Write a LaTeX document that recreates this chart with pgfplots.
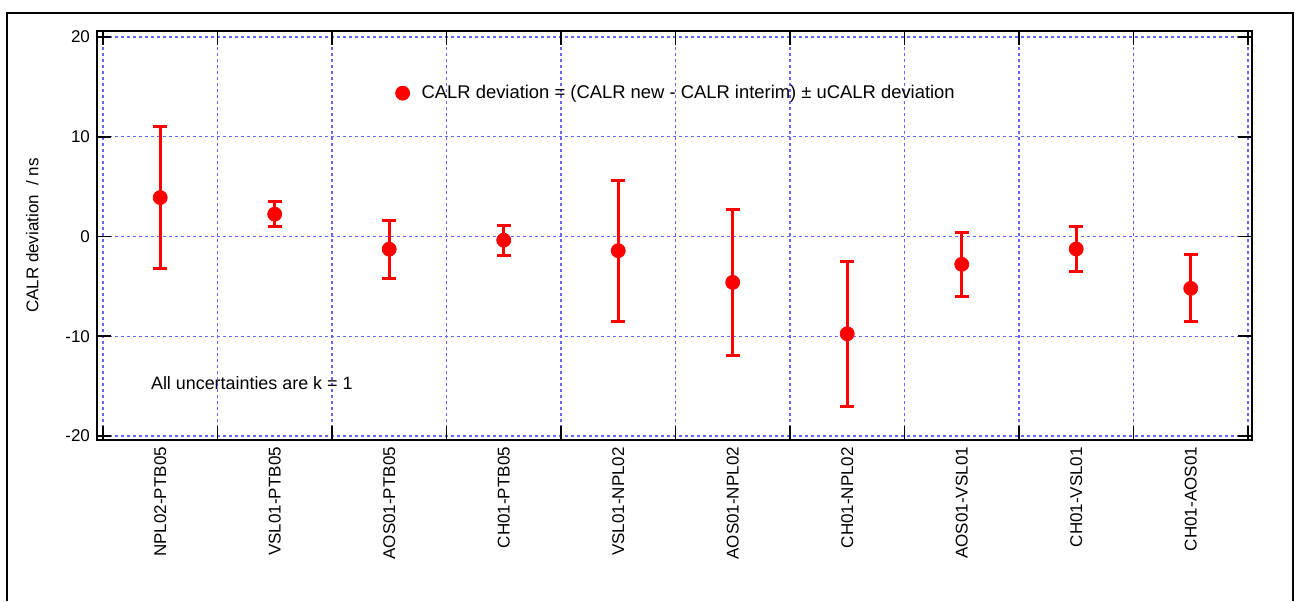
\documentclass[border=0pt]{standalone}
\usepackage{fontspec}
\setmainfont{Liberation Sans}
\usepackage{pgfplots}
\pgfplotsset{compat=1.18}
\definecolor{gridblue}{RGB}{100,100,255}

\pgfplotstableread{
x  y      e
0  3.90   7.12
1  2.24   1.22
2 -1.27   2.89
3 -0.37   1.49
4 -1.42   7.08
5 -4.60   7.28
6 -9.75   7.25
7 -2.79   3.21
8 -1.25   2.27
9 -5.20   3.35
}\calr

\begin{document}
\begin{tikzpicture}
\useasboundingbox (0,0) rectangle (647.5pt,-300.5pt);
\draw[line width=1.2pt] (3.5pt,-300.5pt) -- (3.5pt,-6.5pt) -- (646.5pt,-6.5pt) -- (646.5pt,-300.5pt);
\begin{axis}[
  at={(48.5pt,-220pt)}, anchor=south west,
  scale only axis, width=577.5pt, height=204.5pt,
  xmin=-0.552, xmax=9.535, ymin=-20.4, ymax=20.6,
  axis line style={line width=0.8pt},
  font=\fontsize{8.5}{10}\selectfont,
  /pgf/number format/assume math mode=true,
  tick align=inside, major tick length=7pt, minor tick length=7pt,
  tick style={black, line width=0.9pt},
  xtick={0,...,9},
  xticklabels={NPL02-PTB05,VSL01-PTB05,AOS01-PTB05,CH01-PTB05,VSL01-NPL02,AOS01-NPL02,CH01-NPL02,AOS01-VSL01,CH01-VSL01,CH01-AOS01},
  xticklabel style={rotate=90, anchor=east},
  major x tick style={draw=none},
  minor xtick={-0.5,0.5,...,9.5},
  ytick={-20,-10,...,20},
  xminorgrids=true, ymajorgrids=true,
  grid style={gridblue, dash pattern=on 1.5pt off 1.5pt, line width=0.7pt},
  minor grid style={gridblue, dash pattern=on 1.5pt off 1.5pt, line width=0.7pt},
  ylabel={CALR deviation \ / ns},
  ylabel style={at={(axis description cs:-0.056,0.5)}, anchor=center},
  legend style={draw=none, fill=none, at={(axis description cs:0.253,0.848)}, anchor=west,
    font=\fontsize{9.2}{11}\selectfont},
  legend cell align=left,
]
\addplot[red, only marks, mark=*, mark size=3.5pt,
  error bars/.cd, y dir=both, y explicit,
  error bar style={line width=1.5pt, red},
  error mark options={rotate=90, mark size=3.5pt, line width=1.5pt, red}]
  table[x=x, y=y, y error=e] {\calr};
\addlegendentry{\hspace{4pt}CALR deviation = (CALR new - CALR interim) ± uCALR deviation}
\node[font=\fontsize{8.95}{10}\selectfont] at (axis cs:0.80,-14.69) {All uncertainties are k = 1};
\end{axis}
\end{tikzpicture}
\end{document}
